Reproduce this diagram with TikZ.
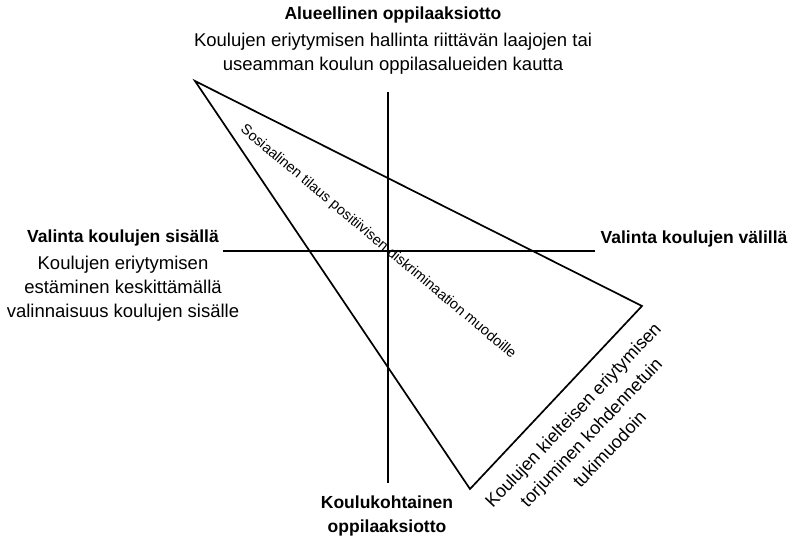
\documentclass[tikz,border=0pt]{standalone}
\usepackage{fontspec}
\setmainfont{Liberation Sans}
\newcommand{\hd}[1]{{\fontsize{17.5}{24}\selectfont\bfseries #1}}
\begin{document}
\begin{tikzpicture}[x=1pt,y=-1pt,
  axis/.style={line width=1.7pt},
  tri/.style={line width=1.7pt, line join=miter},
  lbl/.style={align=center, font=\fontsize{18.5}{24}\selectfont, inner sep=0pt},
  diag/.style={font=\fontsize{14.5}{16}\selectfont, inner sep=0pt}]
\useasboundingbox (0,0) rectangle (790,540);
% axes
\coordinate (vt) at (388,92);
\coordinate (vb) at (388,483);
\coordinate (hl) at (223,251);
\coordinate (hr) at (595,251);
\draw[axis] (vt) -- (vb);
\draw[axis] (hl) -- (hr);
% triangle
\coordinate (A) at (195,81);
\coordinate (B) at (642,306);
\coordinate (C) at (470,489);
\draw[tri] (A) -- (B) -- (C) -- cycle;
% labels
\node[lbl] (top) at (393,41) {\hd{Alueellinen oppilaaksiotto}\\[3pt]Koulujen eriytymisen hallinta riittävän laajojen tai\\useamman koulun oppilasalueiden kautta};
\node[lbl] (left) at (123,276) {\hd{Valinta koulujen sisällä}\\[3pt]Koulujen eriytymisen\\estäminen keskittämällä\\valinnaisuus koulujen sisälle};
\node[lbl] (right) at (694,239) {\hd{Valinta koulujen välillä}};
\node[lbl] (bottom) at (387,516) {\hd{Koulukohtainen}\\\hd{oppilaaksiotto}};
\node[diag, rotate=-40] (soc) at (378,242) {Sosiaalinen tilaus positiivisen diskriminaation muodoille};
\node[lbl, font=\fontsize{18}{25}\selectfont, rotate=46.6] (neg) at (591,432) {Koulujen kielteisen eriytymisen\\torjuminen kohdennetuin\\tukimuodoin};
\end{tikzpicture}
\end{document}
